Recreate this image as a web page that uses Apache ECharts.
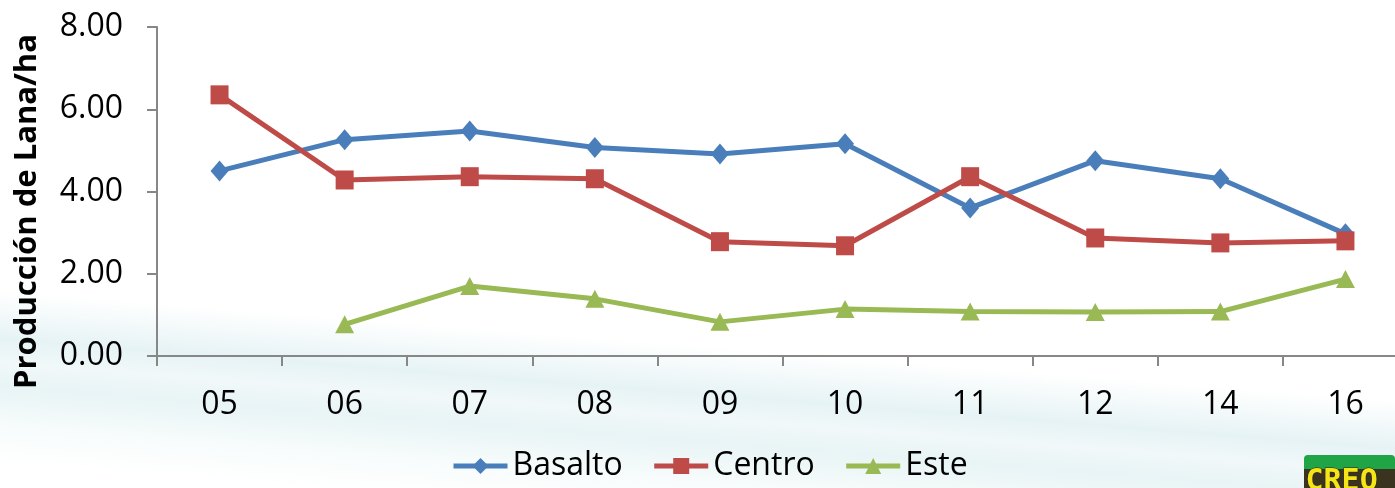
<!DOCTYPE html>
<html>
<head>
<meta charset="utf-8" />
<script src="https://cdn.jsdelivr.net/npm/echarts@6/dist/echarts.min.js"></script>
<style>
  html,
  body {
    margin: 0;
    padding: 0;
  }

  body {
    width: 1395px;
    height: 488px;
    overflow: hidden;
    /* franja celeste de fondo */
    background: linear-gradient(
      184.5deg,
      #ffffff 0%,
      #ffffff 67%,
      #f3f9fa 71%,
      #e6f3f5 75%,
      #f1f8f9 79%,
      #e8f4f5 83%,
      #f8fcfc 90%,
      #ffffff 96%
    );
  }

  .chart-wrap {
    width: 1395px;
    height: 488px;
  }
</style>
</head>
<body>
<div class="chart-wrap" id="chart"></div>

<script>
  // años (eje X)
  const years = ["05", "06", "07", "08", "09", "10", "11", "12", "14", "16"];

  // producción de lana por región
  const basalto = [4.5, 5.26, 5.47, 5.07, 4.91, 5.16, 3.6, 4.75, 4.31, 2.97];
  const centro = [6.35, 4.28, 4.36, 4.31, 2.78, 2.68, 4.36, 2.87, 2.75, 2.8];
  const este = [null, 0.77, 1.7, 1.39, 0.83, 1.14, 1.08, 1.07, 1.08, 1.87];

  // eje Y
  const yMin = 0;
  const yMax = 8;
  const yStep = 2;

  const font = "'Open Sans', 'Noto Sans', sans-serif";
  const axisGray = "#878787";

  const chart = echarts.init(document.getElementById("chart"), null, {
    renderer: "canvas",
  });

  /** serie de línea con marcador */
  const makeSeries = (name, data, color, symbol, size) => ({
    name: name,
    type: "line",
    data: data,
    symbol: symbol,
    symbolSize: size,
    showSymbol: true,
    showAllSymbol: true,
    animation: false,
    lineStyle: { color: color, width: 5 },
    itemStyle: { color: color },
  });

  const legendItem = (name) => ({
    name: name,
    lineStyle: { width: 5 },
  });

  const option = {
    animation: false,
    textStyle: { fontFamily: font },
    grid: {
      left: 157,
      top: 27,
      width: 1251,
      height: 329,
      containLabel: false,
      outerBoundsMode: "none",
    },
    xAxis: {
      type: "category",
      data: years,
      boundaryGap: true,
      axisLine: { lineStyle: { color: axisGray, width: 2 } },
      axisTick: { show: true, length: 10, lineStyle: { color: axisGray, width: 2 } },
      axisLabel: { color: "#000", fontSize: 32, margin: 33, fontFamily: font },
      splitLine: { show: false },
    },
    yAxis: {
      type: "value",
      min: yMin,
      max: yMax,
      interval: yStep,
      name: "Producción de Lana/ha",
      nameLocation: "middle",
      nameRotate: 90,
      nameGap: 114,
      nameTextStyle: {
        color: "#000",
        fontSize: 31,
        fontWeight: "bold",
        fontFamily: font,
        padding: [0, 40, 0, 0], // bajar el título
      },
      axisLine: { show: true, lineStyle: { color: axisGray, width: 2 } },
      axisTick: { show: true, length: 10, lineStyle: { color: axisGray, width: 2 } },
      axisLabel: {
        color: "#000",
        fontSize: 32,
        margin: 34,
        fontFamily: font,
        formatter: (v) => v.toFixed(2),
      },
      splitLine: { show: false },
    },
    legend: {
      left: 451,
      top: 450,
      padding: 0,
      itemWidth: 54,
      itemHeight: 20,
      itemGap: 29,
      lineStyle: { width: 5 },
      textStyle: { color: "#000", fontSize: 32, fontFamily: font },
      data: ["Basalto", "Centro", "Este"].map(legendItem),
    },
    series: [
      makeSeries("Basalto", basalto, "#4A7EBB", "diamond", [18, 21]),
      makeSeries("Centro", centro, "#BE4B48", "rect", [18, 19]),
      makeSeries("Este", este, "#98B954", "triangle", [19, 18]),
    ],
    // logo abajo a la derecha
    graphic: [
      {
        type: "rect",
        left: 1304,
        top: 455,
        shape: { width: 91, height: 18, r: [4, 4, 0, 0] },
        style: { fill: "#1fa546" },
      },
      {
        type: "rect",
        left: 1304,
        top: 469,
        shape: { width: 91, height: 19 },
        style: { fill: "#3a3320" },
      },
      {
        type: "text",
        left: 1305,
        top: 467,
        style: {
          text: "CREO",
          fill: "#f5e416",
          stroke: "#2a2414",
          lineWidth: 1,
          font: "bold 30px 'DejaVu Sans Mono', monospace",
        },
      },
    ],
  };

  chart.setOption(option);

  window.addEventListener("resize", function () {
    chart.resize();
  });
</script>
</body>
</html>
